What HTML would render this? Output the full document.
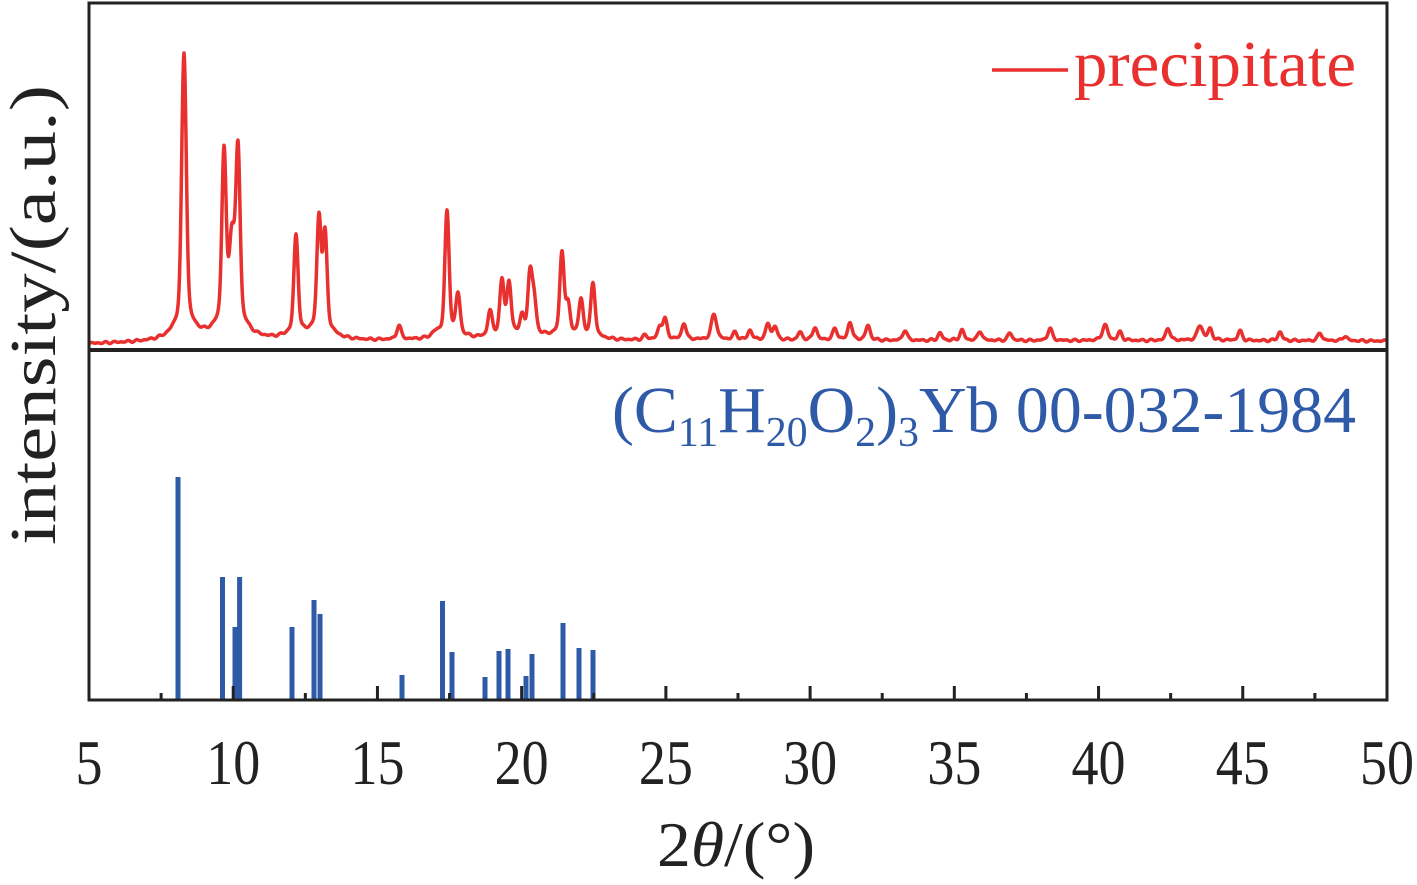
<!DOCTYPE html>
<html><head><meta charset="utf-8"><style>
html,body{margin:0;padding:0;background:#fff;}
svg{display:block;}
text{font-family:"Liberation Serif",serif;}
</style></head><body>
<svg id="s" width="1417" height="885" viewBox="0 0 1417 885" xmlns="http://www.w3.org/2000/svg">
<path id="red" fill="none" stroke="#e8302f" stroke-width="3.5" stroke-linejoin="round" d=""/>
<g id="bars" fill="#2f5aa8"></g>
<g id="ticks" fill="#222"></g>
<rect x="89" y="3" width="1298" height="697" fill="none" stroke="#222" stroke-width="3"/>
<line x1="89" y1="350" x2="1387" y2="350" stroke="#222" stroke-width="4"/>
<line x1="992" y1="70" x2="1068" y2="70" stroke="#e8302f" stroke-width="3.5"/>
<text x="1074" y="86" font-size="66" fill="#e8302f" textLength="282" lengthAdjust="spacingAndGlyphs">precipitate</text>
<text x="612" y="432" font-size="66" fill="#2f5aa8" textLength="744" lengthAdjust="spacingAndGlyphs">(C<tspan font-size="42" dy="14">11</tspan><tspan dy="-14">H</tspan><tspan font-size="42" dy="14">20</tspan><tspan dy="-14">O</tspan><tspan font-size="42" dy="14">2</tspan><tspan dy="-14">)</tspan><tspan font-size="42" dy="14">3</tspan><tspan dy="-14">Yb 00-032-1984</tspan></text>
<g font-size="64" fill="#222" text-anchor="middle" id="lbls"></g>
<text x="657" y="866" font-size="64" fill="#222" textLength="158" lengthAdjust="spacingAndGlyphs">2<tspan font-style="italic">θ</tspan>/(°)</text>
<text transform="translate(55,315) rotate(-90)" font-size="66" fill="#222" text-anchor="middle" textLength="460" lengthAdjust="spacingAndGlyphs">intensity/(a.u.)</text>
</svg>
<script>
var NS="http://www.w3.org/2000/svg";
var pk=[[184,53,2.2],[224,145,2],[232,222,2.5],[238,140,2],[296,234,2],[319,212,2],[325,228,2],[399,325,2],[435,330,3],[447,211,2],[458,292,2],[490,310,2],[502,278,2],[509,280,2],[522,313,2],[530,267,2],[534,288,2],[562,250,2],[568,300,2],[581,298,2],[593,282,2],
[645,335,2],[660,325,2],[665,318,2],[684,323,2],[714,314,2.5],[735,332,2],[750,330,2],[768,323,2],[775,326,2],[800,332,2],[815,327,2],[835,328,2],[850,322,2],[868,325,2],[905,330,2],[940,333,2],[962,330,2],[980,331,2],[1010,333,2],[1050,328,2],[1105,325,2.5],[1120,332,2],[1168,328,2],[1200,325,2.5],[1210,328,2],[1240,331,2],[1280,332,2],[1320,333,2],[1345,336,2]];
function base(x){return x>600?341:344-Math.min(3,(x-89)/40);}
function shape(dx,g){return 0.85*Math.exp(-dx*dx/(2*g*g))+0.15/(1+dx*dx/(16*g*g));}
var amp=pk.map(function(p){return base(p[0])-p[1];});
function val(x){var y=0;for(var i=0;i<pk.length;i++)y+=amp[i]*shape(x-pk[i][0],pk[i][2]);return y;}
for(var it=0;it<30;it++){for(var i=0;i<pk.length;i++){var tgt=base(pk[i][0])-pk[i][1];amp[i]+=0.6*(tgt-val(pk[i][0]));if(amp[i]<0)amp[i]=0;}}
var d="";
for(var x=89;x<=1387;x+=0.5){
 var y=base(x)-val(x)+1.2*Math.sin(x*0.7)*Math.sin(x*0.13);
 d+=(d?"L":"M")+x+" "+y.toFixed(1);
}
document.getElementById("red").setAttribute("d",d);
var bars=[[178,477],[222.5,577],[235,627],[239.6,577],[292,627],[314,600],[320,614],[402,675],[442.5,601],[452,652],[485,677],[499,651],[508,649],[526,676],[532,654],[563,623],[579,648],[593,650]];
var bg=document.getElementById("bars");
bars.forEach(function(b){var r=document.createElementNS(NS,"rect");r.setAttribute("x",b[0]-2.5);r.setAttribute("y",b[1]);r.setAttribute("width",5);r.setAttribute("height",700-b[1]);bg.appendChild(r);});
var tg=document.getElementById("ticks"),lg=document.getElementById("lbls");
for(var v=5;v<=50;v+=2.5){var x=89+(v-5)*28.844;var maj=(v%5==0);
 if(v>5&&v<50){var r=document.createElementNS(NS,"rect");r.setAttribute("x",x-1.5);r.setAttribute("y",maj?686:693);r.setAttribute("width",3);r.setAttribute("height",maj?14:7);tg.appendChild(r);}
 if(maj){var t=document.createElementNS(NS,"text");t.setAttribute("x",x);t.setAttribute("y",784);
  var s=String(v);t.setAttribute("textLength",s.length*27);t.setAttribute("lengthAdjust","spacingAndGlyphs");
  t.textContent=s;lg.appendChild(t);}
}
</script>
</body></html>
